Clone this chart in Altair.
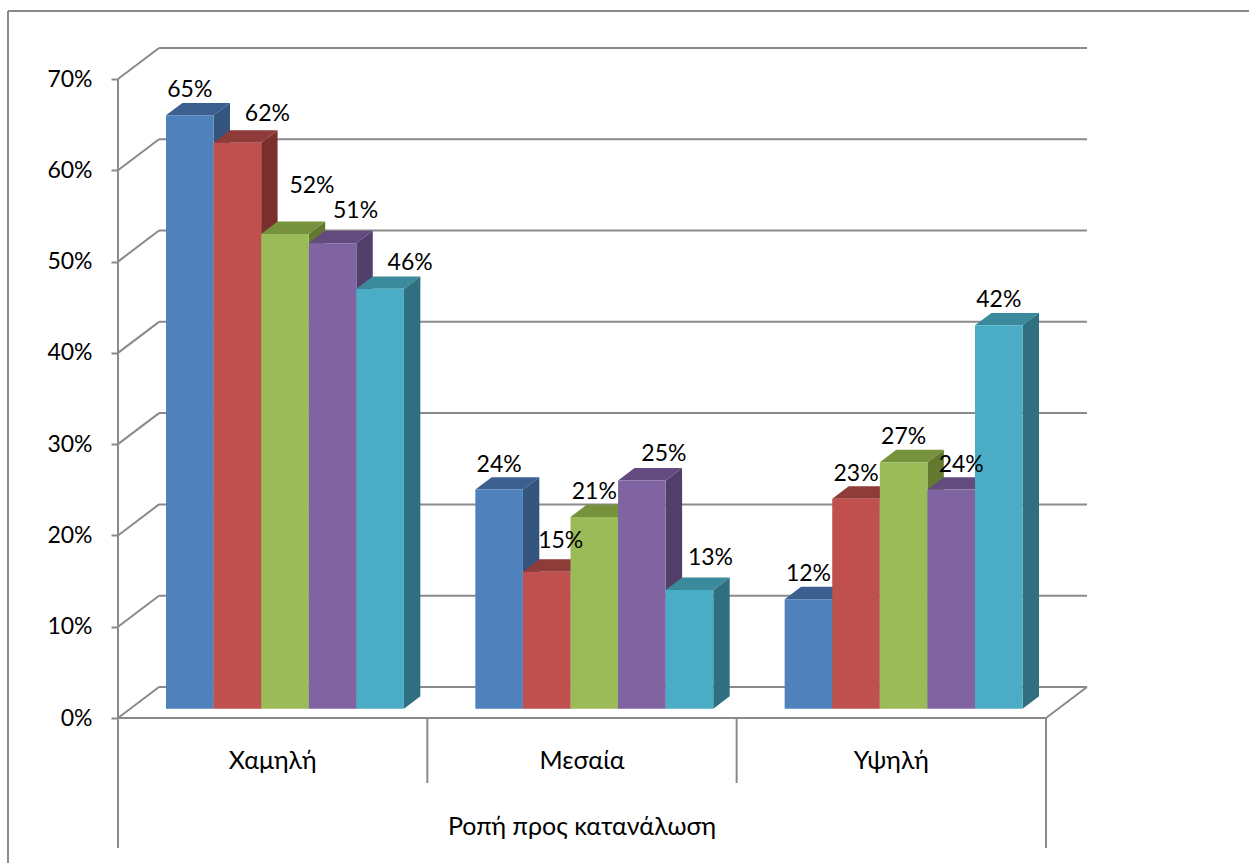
import altair as alt
import pandas as pd

# ---- data -------------------------------------------------------------
categories = ["Χαμηλή", "Μεσαία", "Υψηλή"]
age_groups = ["<18", "18-24", "25-29", "30-44", ">45"]
share_low = [65, 62, 52, 51, 46]
share_mid = [24, 15, 21, 25, 13]
share_high = [12, 23, 27, 24, 42]
y_ticks = [0, 10, 20, 30, 40, 50, 60, 70]
axis_title = "Ροπή προς κατανάλωση"

# ---- styling ----------------------------------------------------------
FONT = "Lato, 'Open Sans', 'Noto Sans'"
FS = 23
FS_CAT = 25
GRID = "#8a8a8a"
front_colors = ["#4F81BD", "#C0504D", "#9BBB59", "#8064A2", "#4BACC6"]
top_colors = ["#3B6090", "#8E3B39", "#76923C", "#634B80", "#3A8A9C"]
side_colors = ["#34567E", "#7A2F2D", "#63792F", "#523F69", "#2F6F80"]

# pseudo-3D projection: depth axis drawn up and to the right
DX = 0.1326            # floor depth, in category units
DY = 3.4               # floor depth, in percent units
D0, D1 = 0.3, 0.7      # front / back depth of the bars
BAR_W = 1 / 6.5
GAP = 0.75 * BAR_W
W, H = 969, 670
PX_X = W / (3 + DX)
PX_Y = H / (70 + DY)

# manual label nudges (pixels) for labels that would otherwise collide
nudges = {
    ("Χαμηλή", "18-24"): (30, -4), ("Χαμηλή", "25-29"): (27, -23),
    ("Χαμηλή", "30-44"): (23, -7), ("Χαμηλή", ">45"): (30, -1),
    ("Μεσαία", "18-24"): (14, -6), ("Μεσαία", "30-44"): (22, -1),
    ("Μεσαία", ">45"): (21, -7), ("Υψηλή", "30-44"): (10, 0),
}

series = [share_low, share_mid, share_high]
front, side, top, labels = [], [], [], []
for c, cat in enumerate(categories):
    for k, grp in enumerate(age_groups):
        v = series[c][k]
        bid = f"b{c}{k}"
        x0 = c + GAP + k * BAR_W + D0 * DX
        x1 = x0 + BAR_W
        yb = D0 * DY
        yt = v + D0 * DY
        ddx = (D1 - D0) * DX
        ddy = (D1 - D0) * DY
        front.append(dict(bid=bid, group=grp, x0=x0, x1=x1, yb=yb, yt=yt))
        side.append(dict(bid=bid, face=side_colors[k], px=x1, py=yb, py2=yt))
        side.append(dict(bid=bid, face=side_colors[k], px=x1 + ddx, py=yb + ddy, py2=yt + ddy))
        top.append(dict(bid=bid, face=top_colors[k], py=yt, px=x0, px2=x1))
        top.append(dict(bid=bid, face=top_colors[k], py=yt + ddy, px=x0 + ddx, px2=x1 + ddx))
        ndx, ndy = nudges.get((cat, grp), (0, 0))
        labels.append(dict(text=f"{v}%", px=(x0 + x1) / 2 + ndx / PX_X,
                           py=yt - ndy / PX_Y))

front_df = pd.DataFrame(front)
side_df = pd.DataFrame(side)
top_df = pd.DataFrame(top)
label_df = pd.DataFrame(labels)

xs = alt.Scale(domain=[0, 3 + DX], nice=False, zero=False)
ys = alt.Scale(domain=[0, 70 + DY], nice=False, zero=False)


def X(f, **kw):
    return alt.X(f, type="quantitative", scale=xs, axis=None, **kw)


def Y(f, **kw):
    return alt.Y(f, type="quantitative", scale=ys, axis=None, **kw)


# walls: back gridlines, left-wall diagonals, floor edges, value axis line
back_df = pd.DataFrame({"px": [DX] * len(y_ticks), "px2": [3 + DX] * len(y_ticks),
                        "py": [t + DY for t in y_ticks]})
diag_df = pd.DataFrame({"px": [0] * len(y_ticks), "px2": [DX] * len(y_ticks),
                        "py": y_ticks, "py2": [t + DY for t in y_ticks]})
edge_df = pd.DataFrame({"px": [3, 0, 0], "px2": [3 + DX, 3, 0],
                        "py": [0, 0, 0], "py2": [DY, 0, 70]})

rule = dict(color=GRID, strokeWidth=2)
back = alt.Chart(back_df).mark_rule(**rule).encode(X("px"), x2="px2", y=Y("py"))
diag = alt.Chart(diag_df).mark_rule(**rule).encode(X("px"), x2="px2", y=Y("py"), y2="py2")
edges = alt.Chart(edge_df).mark_rule(**rule).encode(X("px"), x2="px2", y=Y("py"), y2="py2")

# category dividers below the floor
inner_div = alt.Chart(pd.DataFrame({"px": [1, 2]})).mark_rule(**rule).encode(
    X("px"), y=alt.value(H), y2=alt.value(H + 65))
outer_div = alt.Chart(pd.DataFrame({"px": [0, 3]})).mark_rule(**rule).encode(
    X("px"), y=alt.value(H), y2=alt.value(H + 130))

# outer frame (top and left edges)
frame_top = alt.Chart(pd.DataFrame({"k": [0]})).mark_rule(**rule).encode(
    x=alt.value(-110), x2=alt.value(1131), y=alt.value(-37))
frame_left = alt.Chart(pd.DataFrame({"k": [0]})).mark_rule(**rule).encode(
    x=alt.value(-110), y=alt.value(-37), y2=alt.value(816))

# bars: right faces, top faces, then front faces
sides = alt.Chart(side_df).mark_area().encode(
    x=X("px"), y=Y("py"), y2="py2", detail="bid:N",
    color=alt.Color("face:N", scale=None, legend=None))
tops = alt.Chart(top_df).mark_area(orient="horizontal").encode(
    y=Y("py"), x=X("px", stack=None), x2="px2", detail="bid:N",
    fill=alt.Fill("face:N", scale=None, legend=None))
fronts = alt.Chart(front_df).mark_rect().encode(
    x=X("x0"), x2="x1",
    y=alt.Y("yb:Q", scale=ys, axis=alt.Axis(
        values=y_ticks, labelExpr="datum.value + '%'", domain=False, grid=False,
        tickSize=7, tickWidth=2, tickColor=GRID, labelFontSize=FS, labelFont=FONT,
        labelColor="black", labelPadding=19, title=None)),
    y2="yt",
    color=alt.Color("group:N", scale=alt.Scale(domain=age_groups, range=front_colors),
                    legend=alt.Legend(orient="none", legendX=1021, legendY=283, title=None,
                                      symbolType="square", symbolSize=225,
                                      symbolStrokeWidth=0, labelFontSize=FS,
                                      labelFont=FONT, labelColor="black",
                                      labelOffset=5, rowPadding=25)),
)

value_labels = alt.Chart(label_df).mark_text(
    font=FONT, fontSize=FS, color="black", baseline="alphabetic", dy=-18
).encode(X("px"), y=Y("py"), text="text:N")

cat_df = pd.DataFrame({"px": [i + 0.5 for i in range(3)], "label": categories})
cat_labels = alt.Chart(cat_df).mark_text(
    font=FONT, fontSize=FS_CAT, color="black", baseline="alphabetic"
).encode(X("px"), y=alt.value(H + 51), text="label:N")
title = alt.Chart(pd.DataFrame({"px": [1.5], "t": [axis_title]})).mark_text(
    font=FONT, fontSize=FS_CAT, color="black", baseline="alphabetic"
).encode(X("px"), y=alt.value(H + 117), text="t:N")

chart = alt.layer(
    frame_top, frame_left, back, diag, edges, inner_div, outer_div,
    sides, tops, fronts, value_labels, cat_labels, title,
).resolve_axis(
    x="independent", y="independent"
).properties(
    width=W, height=H, background="white",
    padding={"left": 118, "top": 48, "right": 1249 - 118 - W, "bottom": 863 - 48 - H},
    autosize=alt.AutoSizeParams(type="none"),
).configure_view(stroke=None)

chart.save("out.html", embed_options={"renderer": "svg", "actions": False})
